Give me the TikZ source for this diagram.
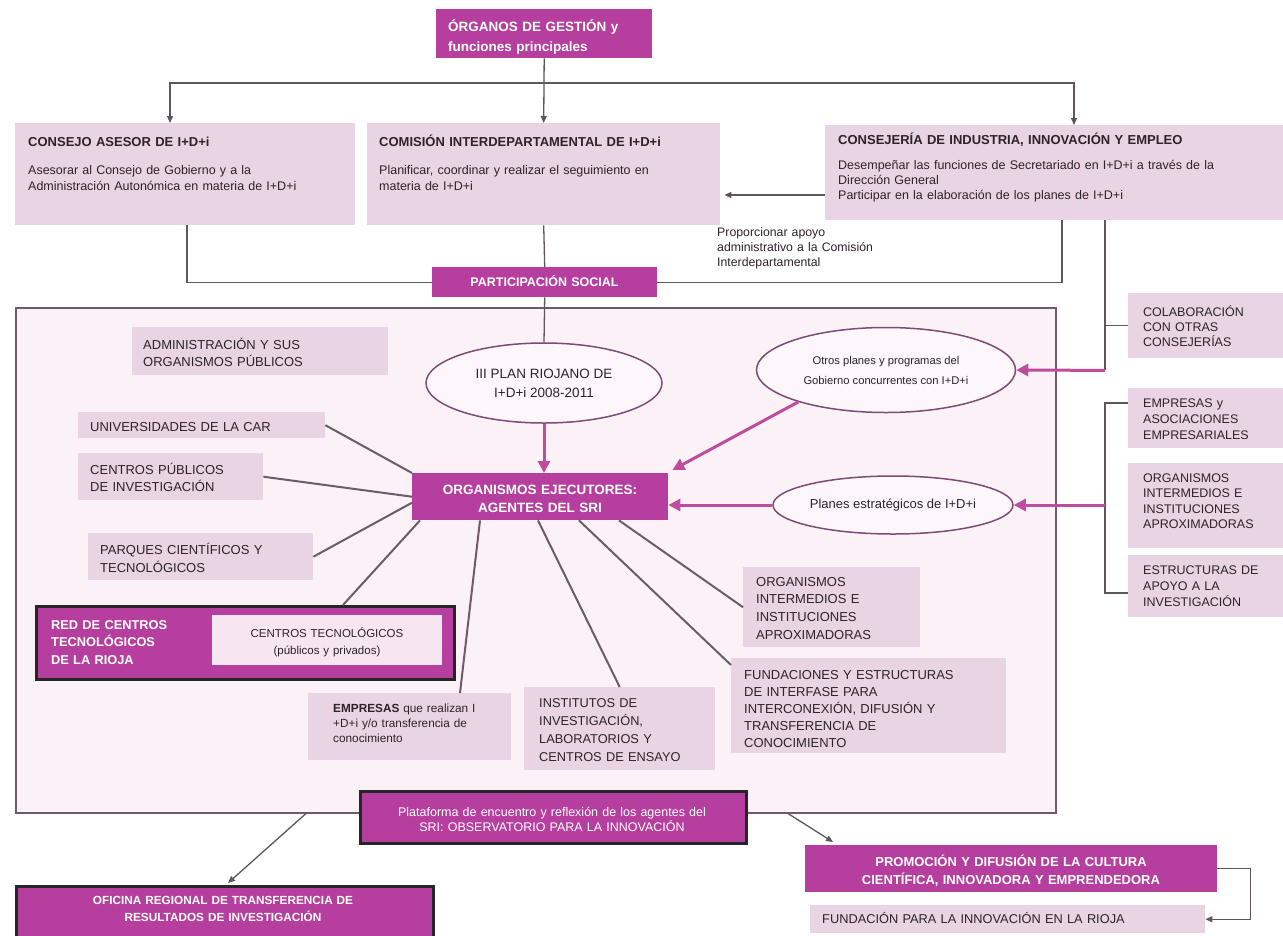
\documentclass[tikz,border=0pt]{standalone}
\usepackage{fontspec}
\setmainfont{Liberation Sans}
\usetikzlibrary{arrows.meta,shapes.geometric,calc}
\definecolor{lpink}{RGB}{232,212,226}
\definecolor{mag}{RGB}{182,62,158}
\definecolor{bgin}{RGB}{251,242,248}
\definecolor{ink}{RGB}{45,35,45}
\definecolor{lineg}{RGB}{95,85,95}
\definecolor{marrow}{RGB}{192,76,158}
\definecolor{ellb}{RGB}{125,75,115}
\definecolor{ellf}{RGB}{253,247,251}
\definecolor{ctin}{RGB}{246,230,242}
\definecolor{frameb}{RGB}{110,90,105}
\newcommand\myfs[2]{\fontsize{#1}{#2}\selectfont}
\begin{document}
\begin{tikzpicture}[x=1pt,y=-1pt,
 lbox/.style={fill=lpink, draw=none, inner sep=0, anchor=north west},
 mbox/.style={fill=mag, draw=none, inner sep=0, anchor=north west},
 kbox/.style={fill=mag, draw=black!85, line width=3pt, inner sep=0, anchor=north west},
 tx/.style={inner sep=0, anchor=base west, align=left, text=ink, text width=450pt},
 wtl/.style={inner sep=0, anchor=base west, align=left, text=white, text width=400pt},
 wtc/.style={inner sep=0, anchor=base, align=center, text=white, text width=500pt},
 tc/.style={inner sep=0, anchor=base, align=center, text=ink, text width=400pt},
 ell/.style={ellipse, draw=ellb, line width=1.5pt, fill=ellf, inner sep=0, align=center, text=ink},
 gl/.style={draw=lineg, line width=1.3pt},
 garr/.style={draw=lineg, line width=1.3pt, -{Triangle[length=7pt,width=6pt]}},
 sl/.style={draw=frameb, line width=2pt},
 marr/.style={draw=marrow, line width=3pt, -{Triangle[length=12pt,width=12pt]}}
]
\useasboundingbox (0,0) rectangle (1283,935);
\fill[white] (0,0) rectangle (1283,935);

% ---- top level
\node[mbox, minimum width=216pt, minimum height=49pt] (gest) at (436,9) {};
\node[wtl, font=\bfseries\myfs{13.5}{20}] (gestt) at (448,31) {ÓRGANOS DE GESTIÓN y\\funciones principales};

\node[lbox, minimum width=340pt, minimum height=102pt] (ca) at (15,123) {};
\node[lbox, minimum width=353pt, minimum height=102pt] (ci) at (367,123) {};
\node[lbox, minimum width=458pt, minimum height=95pt] (ce) at (825,125) {};

\node[tx, font=\bfseries\myfs{13}{16}] (cat) at (28,146) {CONSEJO ASESOR DE I+D+i};
\node[tx, font=\myfs{12.5}{16}] (cab) at (28,174) {Asesorar al Consejo de Gobierno y a la\\Administración Autonómica en materia de I+D+i};
\node[tx, font=\bfseries\myfs{13}{16}] (cit) at (379,146) {COMISIÓN INTERDEPARTAMENTAL DE I+D+i};
\node[tx, font=\myfs{12.5}{16}] (cib) at (379,174) {Planificar, coordinar y realizar el seguimiento en\\materia de I+D+i};
\node[tx, font=\bfseries\myfs{13}{16}] (cet) at (838,144) {CONSEJERÍA DE INDUSTRIA, INNOVACIÓN Y EMPLEO};
\node[tx, font=\myfs{12.5}{15}] (ceb) at (838,169) {Desempeñar las funciones de Secretariado en I+D+i a través de la\\Dirección General\\Participar en la elaboración de los planes de I+D+i};

\node[tx, font=\myfs{12.3}{15}] (prop) at (717,236) {Proporcionar apoyo\\administrativo a la Comisión\\Interdepartamental};

\node[mbox, minimum width=225pt, minimum height=30pt] (ps) at (432,267) {};
\node[wtc, font=\bfseries\myfs{12.5}{16}] (pst) at (544.5,286.5) {PARTICIPACIÓN SOCIAL};

\coordinate (hub) at (544,83);
\draw[gl] (gest.south) -- (hub);
\draw[garr] (hub) -| ($(ca.north west)+(155,0)$);
\draw[garr] (hub) -| ($(ce.north west)+(249,0)$);
\draw[garr] (hub) -- (ci.north);
\draw[garr] ($(ce.north west)+(0,70)$) -- ($(ci.north east)+(4,72)$);
\draw[gl] ($(ca.south west)+(172,0)$) |- (ps.west);
\draw[gl] (ci.south) -- (ps.north);
\draw[gl] (ps.east) -| ($(ce.south west)+(237,0)$);

% ---- frame
\node[draw=frameb, line width=1.5pt, fill=bgin, anchor=north west, minimum width=1040pt, minimum height=505pt, inner sep=0] (frame) at (15,307) {};

% ellipses and central node
\node[ell, minimum width=236pt, minimum height=80pt, font=\myfs{13.5}{19}] (plan) at (544,383) {III PLAN RIOJANO DE\\I+D+i 2008-2011};
\node[ell, minimum width=259pt, minimum height=85pt, font=\myfs{11.2}{20}] (otros) at (886,370) {Otros planes y programas del\\Gobierno concurrentes con I+D+i};
\node[ell, minimum width=240pt, minimum height=58pt, font=\myfs{13}{16}] (pest) at (893,505) {Planes estratégicos de I+D+i};

\node[mbox, minimum width=256pt, minimum height=47pt] (oe) at (412,473) {};
\node[wtc, font=\bfseries\myfs{13.5}{18}] (oet) at (540,494) {ORGANISMOS EJECUTORES:\\AGENTES DEL SRI};

\draw[gl] (ps.south) -- (plan.north);
\draw[marr] (plan.south) -- (plan.south |- oe.north);
\draw[marr] (otros.200) -- ($(oe.north east)+(4,-3)$);
\draw[marr] (pest.west) -- (pest.west -| oe.east);

% satellites
\node[lbox, minimum width=256pt, minimum height=48pt] (adm) at (132,327) {};
\node[tx, font=\myfs{13}{17}] (admt) at (143,349) {ADMINISTRACIÓN Y SUS\\ORGANISMOS PÚBLICOS};
\node[lbox, minimum width=247pt, minimum height=26pt] (univ) at (78,412) {};
\node[tx, font=\myfs{13}{17}] (univt) at (90,431) {UNIVERSIDADES DE LA CAR};
\node[lbox, minimum width=185pt, minimum height=47pt] (cpi) at (78,453) {};
\node[tx, font=\myfs{13}{17}] (cpit) at (90,474) {CENTROS PÚBLICOS\\DE INVESTIGACIÓN};
\node[lbox, minimum width=225pt, minimum height=47pt] (parq) at (88,533) {};
\node[tx, font=\myfs{13}{18}] (parqt) at (100,554) {PARQUES CIENTÍFICOS Y\\TECNOLÓGICOS};

\node[kbox, minimum width=418pt, minimum height=73pt] (red) at (35,605) {};
\node[wtl, font=\bfseries\myfs{12.8}{17.5}] (redt) at (51,629) {RED DE CENTROS\\TECNOLÓGICOS\\DE LA RIOJA};
\node[fill=ctin, inner sep=0, anchor=north west, minimum width=230pt, minimum height=50pt] (ct) at (212,615) {};
\node[tc, font=\myfs{11.5}{17}] (ctt) at (327,637) {CENTROS TECNOLÓGICOS\\(públicos y privados)};

\node[lbox, minimum width=203pt, minimum height=67pt] (empr) at (308,693) {};
\node[tx, font=\myfs{11.8}{15}] (emprt) at (333,712) {\textbf{EMPRESAS} que realizan I\\+D+i y/o transferencia de\\conocimiento};
\node[lbox, minimum width=191pt, minimum height=83pt] (inst) at (524,687) {};
\node[tx, font=\myfs{12.8}{18}] (instt) at (539,707) {INSTITUTOS DE\\INVESTIGACIÓN,\\LABORATORIOS Y\\CENTROS DE ENSAYO};
\node[lbox, minimum width=177pt, minimum height=80pt] (orgi2) at (743,567) {};
\node[tx, font=\myfs{13}{17.7}] (orgi2t) at (756,586) {ORGANISMOS\\INTERMEDIOS E\\INSTITUCIONES\\APROXIMADORAS};
\node[lbox, minimum width=275pt, minimum height=95pt] (fund) at (731,658) {};
\node[tx, font=\myfs{13}{17}] (fundt) at (744,679) {FUNDACIONES Y ESTRUCTURAS\\DE INTERFASE PARA\\INTERCONEXIÓN, DIFUSIÓN Y\\TRANSFERENCIA DE\\CONOCIMIENTO};

\draw[sl] (univ.east) -- (oe.north west);
\draw[sl] (cpi.east) -- (oe.west);
\draw[sl] (parq.east) -- ($(oe.west)+(0,6)$);
\draw[sl] ($(red.north west)+(308,0)$) -- ($(oe.south west)+(8,0)$);
\draw[sl] ($(empr.north west)+(152,0)$) -- ($(oe.south west)+(68,0)$);
\draw[sl] (inst.north) -- ($(oe.south west)+(126,0)$);
\draw[sl] ($(fund.north west)+(0,7)$) -- ($(oe.south west)+(167,0)$);
\draw[sl] (orgi2.west) -- ($(oe.south west)+(207,0)$);

% right column
\node[lbox, minimum width=155pt, minimum height=65pt] (colab) at (1128,293) {};
\node[tx, font=\myfs{12.5}{15}] (colabt) at (1143,316) {COLABORACIÓN\\CON OTRAS\\CONSEJERÍAS};
\node[lbox, minimum width=155pt, minimum height=60pt] (emp) at (1128,388) {};
\node[tx, font=\myfs{12.5}{16}] (empt) at (1143,407) {EMPRESAS y\\ASOCIACIONES\\EMPRESARIALES};
\node[lbox, minimum width=155pt, minimum height=85pt] (orgi) at (1128,463) {};
\node[tx, font=\myfs{12.5}{15.5}] (orgit) at (1143,482) {ORGANISMOS\\INTERMEDIOS E\\INSTITUCIONES\\APROXIMADORAS};
\node[lbox, minimum width=155pt, minimum height=62pt] (estr) at (1128,555) {};
\node[tx, font=\myfs{12.5}{16}] (estrt) at (1143,574) {ESTRUCTURAS DE\\APOYO A LA\\INVESTIGACIÓN};

\coordinate (rc1) at ($(ce.south west)+(280,150)$);
\draw[gl] ($(ce.south west)+(280,0)$) -- (rc1);
\draw[gl] (colab.west) -- (colab.west -| rc1);
\draw[marr] (rc1) -- (otros.east);
\draw[gl] ($(emp.north west)+(0,15)$) -- ++(-23,0) |- ($(estr.north west)+(0,38)$);
\draw[marr] (pest.east -| rc1) -- (pest.east);

% bottom
\node[kbox, minimum width=386pt, minimum height=52pt] (obs) at (359,790) {};
\node[wtc, font=\myfs{12.5}{15}] (obst) at (552,816) {Plataforma de encuentro y reflexión de los agentes del\\SRI: OBSERVATORIO PARA LA INNOVACIÓN};

\node[kbox, minimum width=417pt, minimum height=56pt] (otri) at (15,885) {};
\node[wtc, font=\bfseries\myfs{11.8}{17}] (otrit) at (223,904) {OFICINA REGIONAL DE TRANSFERENCIA DE\\RESULTADOS DE INVESTIGACIÓN};

\node[mbox, minimum width=412pt, minimum height=47pt] (prom) at (805,845) {};
\node[wtc, font=\bfseries\myfs{13}{18}] (promt) at (1011,866) {PROMOCIÓN Y DIFUSIÓN DE LA CULTURA\\CIENTÍFICA, INNOVADORA Y EMPRENDEDORA};
\node[lbox, minimum width=395pt, minimum height=28pt] (fpi) at (810,905) {};
\node[tx, font=\myfs{12.8}{15}] (fpit) at (822,923) {FUNDACIÓN PARA LA INNOVACIÓN EN LA RIOJA};

\draw[garr] ($(frame.south west)+(291,0)$) -- ($(otri.north west)+(213,-2)$);
\draw[garr] ($(frame.south west)+(773,0)$) -- ($(prom.north west)+(28,-3)$);
\draw[garr] (prom.east) -- ++(33,0) |- (fpi.east);
\end{tikzpicture}
\end{document}
